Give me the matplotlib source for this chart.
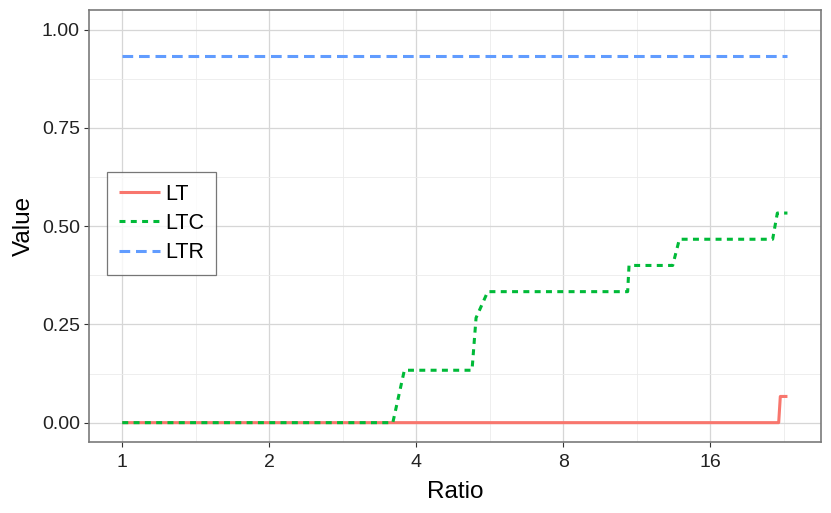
import matplotlib
matplotlib.use("Agg")
import matplotlib.pyplot as plt
import numpy as np

plt.rcParams['font.family'] = ['Liberation Sans', 'DejaVu Sans']

# Data
ratio = [1.0, 3.58, 3.78, 5.20, 5.30, 5.60, 10.83, 10.90, 13.39, 13.82,
         21.45, 21.93, 22.07, 22.24, 23.0]
lt  = [0, 0, 0, 0, 0, 0, 0, 0, 0, 0, 0, 0, 0, 1/15, 1/15]
ltc = [0, 0, 2/15, 2/15, 4/15, 5/15, 5/15, 6/15, 6/15, 7/15, 7/15, 8/15, 8/15, 8/15, 8/15]
ltr = [14/15] * len(ratio)
series_names = ["LT", "LTC", "LTR"]
colors = ["#F8766D", "#00BA38", "#619CFF"]

x_ticks = [1, 2, 4, 8, 16]
x_ticklabels = ["1", "2", "4", "8", "16"]
y_ticks = [0.0, 0.25, 0.5, 0.75, 1.0]
y_ticklabels = ["0.00", "0.25", "0.50", "0.75", "1.00"]

W, H = 831, 513
fig = plt.figure(figsize=(W / 100, H / 100), dpi=100)
ax = fig.add_axes([89 / W, 1 - 442.3 / H, (820.7 - 89) / W, (442.3 - 10) / H])

lw = 2.2
ax.plot(ratio, lt, color=colors[0], lw=lw, label=series_names[0], solid_capstyle='butt', zorder=3)
ax.plot(ratio, ltc, color=colors[1], lw=lw, label=series_names[1], linestyle=(0, (1.95, 1.75)), zorder=4)
ax.plot(ratio, ltr, color=colors[2], lw=lw, label=series_names[2], linestyle=(0, (3.5, 1.9)), zorder=5)

ax.set_xscale('log', base=2)
ax.set_xticks(x_ticks)
ax.set_xticklabels(x_ticklabels)
ax.set_xticks([2 ** (k + 0.5) for k in range(-1, 5)], minor=True)
ax.set_xticklabels([], minor=True)
ax.set_yticks(y_ticks)
ax.set_yticklabels(y_ticklabels)
ax.set_yticks([0.125, 0.375, 0.625, 0.875], minor=True)

lo, hi = np.log2(ratio[0]), np.log2(ratio[-1])
pad = (hi - lo) * 0.05
ax.set_xlim(2 ** (lo - pad), 2 ** (hi + pad))
ax.set_ylim(-0.05, 1.05)

ax.grid(which='major', color='#d6d6d6', lw=0.9)
ax.grid(which='minor', color='#ebebeb', lw=0.6)
ax.set_axisbelow(True)
ax.tick_params(which='minor', length=0)
ax.tick_params(axis='x', which='major', pad=5)
ax.tick_params(axis='y', which='major', pad=3)
ax.tick_params(which='major', length=3.5, width=0.8, color='#333333',
               labelsize=14, labelcolor='#222222')

for s in ax.spines.values():
    s.set_color('#7a7a7a')
    s.set_linewidth(1.2)

ax.set_xlabel("Ratio", fontsize=17.5, labelpad=7)
ax.set_ylabel("Value", fontsize=17.5, labelpad=5)

leg = ax.legend(loc='upper left', bbox_to_anchor=(107 / W, 1 - 172 / H),
                bbox_transform=fig.transFigure, borderaxespad=0,
                fontsize=15.5, frameon=True, fancybox=False,
                handlelength=1.9, handletextpad=0.25, labelspacing=0.38,
                borderpad=0.55)
leg.get_frame().set_edgecolor('#555555')
leg.get_frame().set_linewidth(0.9)

fig.savefig("out.png", dpi=100)
